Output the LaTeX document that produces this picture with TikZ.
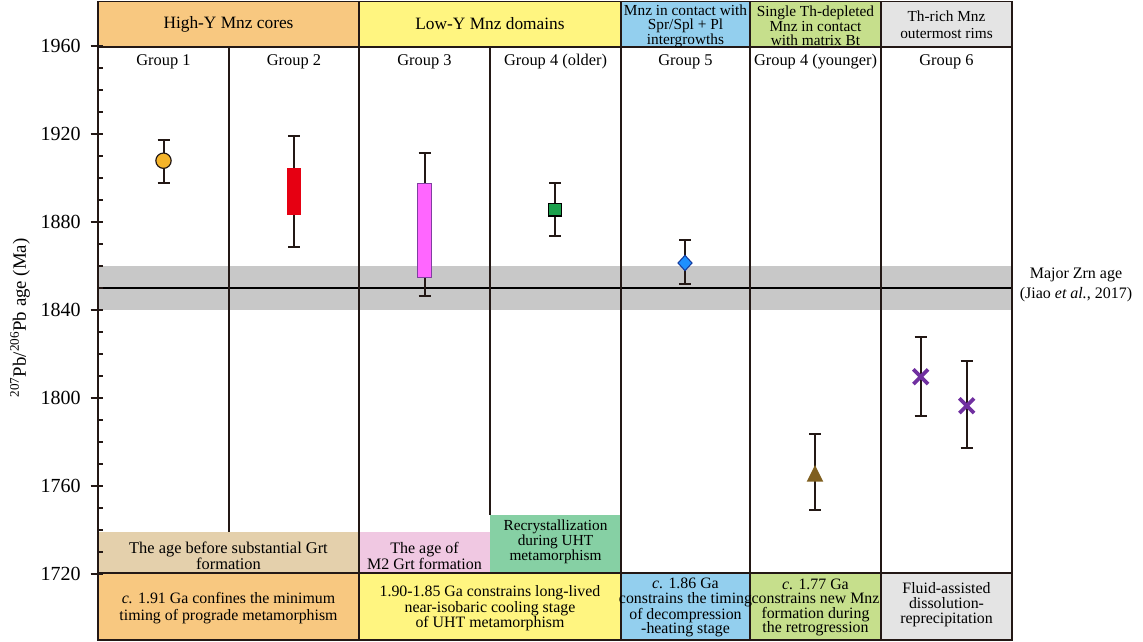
\documentclass[tikz,border=0pt]{standalone}
\usepackage{fontspec}
\setmainfont{Liberation Serif}
\usetikzlibrary{shapes.geometric,shapes.misc}
\definecolor{hdorange}{RGB}{248,200,128}
\definecolor{hdyellow}{RGB}{255,245,128}
\definecolor{hdblue}{RGB}{147,207,238}
\definecolor{hdgreen}{RGB}{198,223,140}
\definecolor{hdgrey}{RGB}{228,228,228}
\definecolor{bxbeige}{RGB}{228,208,172}
\definecolor{bxpink}{RGB}{240,200,226}
\definecolor{bxmint}{RGB}{134,208,164}
\definecolor{band}{RGB}{200,200,200}
\definecolor{lineclr}{RGB}{35,24,21}
\definecolor{mkorange}{RGB}{245,180,42}
\definecolor{mkred}{RGB}{230,0,18}
\definecolor{mkmag}{RGB}{255,102,255}
\definecolor{mkmagline}{RGB}{128,64,160}
\definecolor{mkgreen}{RGB}{27,160,75}
\definecolor{mkblue}{RGB}{30,144,255}
\definecolor{mkblueline}{RGB}{20,60,160}
\definecolor{mkbrown}{RGB}{127,95,31}
\definecolor{mkpurple}{RGB}{112,48,160}
\begin{document}
\begin{tikzpicture}[x=0.75pt,y=-0.75pt,
  frame/.style={draw=lineclr,line width=1.3pt},
  whisk/.style={draw=lineclr,line width=1.5pt},
  hdr/.style={font=\fontsize{13}{13}\selectfont,align=center,inner sep=0pt},
  hdrs/.style={font=\fontsize{11.5}{10.9}\selectfont,align=center,inner sep=0pt},
  grp/.style={font=\fontsize{12.3}{14}\selectfont,inner sep=0pt},
  btm/.style={font=\fontsize{11.9}{10.9}\selectfont,align=center,inner sep=0pt},
  boxtxt/.style={font=\fontsize{11.5}{10}\selectfont,align=center,inner sep=0pt},
  ticklab/.style={font=\fontsize{15}{15}\selectfont,anchor=east,inner sep=0pt},
  mk/.style={inner sep=0pt,outer sep=0pt}]
\useasboundingbox (0,0) rectangle (1143,642);

% header fills
\fill[hdorange] (98,1.5) rectangle (359,47);
\fill[hdyellow] (359,1.5) rectangle (621,47);
\fill[hdblue] (621,1.5) rectangle (750,47);
\fill[hdgreen] (750,1.5) rectangle (881,47);
\fill[hdgrey] (881,1.5) rectangle (1012,47);
% bottom fills
\fill[hdorange] (98,573) rectangle (359,640);
\fill[hdyellow] (359,573) rectangle (621,640);
\fill[hdblue] (621,573) rectangle (750,640);
\fill[hdgreen] (750,573) rectangle (881,640);
\fill[hdgrey] (881,573) rectangle (1012,640);
% interpretation boxes
\fill[bxbeige] (98,532) rectangle (359,573);
\fill[bxpink] (359,532) rectangle (490,573);
\fill[bxmint] (490,515) rectangle (621,573);
% Zrn age band
\fill[band] (98,266) rectangle (1012,310);
\draw[draw=black,line width=2.2pt] (98,288) -- (1012,288);

% frame and dividers
\draw[frame] (98,1.5) rectangle (1012,640);
\draw[frame] (98,47) -- (1012,47);
\draw[frame] (98,573) -- (1012,573);
\draw[frame] (229,47) -- (229,532);
\draw[frame] (359,1.5) -- (359,640);
\draw[frame] (490,47) -- (490,515);
\draw[frame] (621,1.5) -- (621,640);
\draw[frame] (750,1.5) -- (750,640);
\draw[frame] (881,1.5) -- (881,640);

% axis ticks
\foreach \v in {1720,1730,...,1960}{
  \pgfmathsetmacro\yy{46+(1960-\v)*2.2}
  \draw[draw=lineclr,line width=1.3pt] (98,\yy) -- (103,\yy);
}
\foreach \v in {1720,1760,...,1960}{
  \pgfmathsetmacro\yy{46+(1960-\v)*2.2}
  \draw[draw=lineclr,line width=1.3pt] (90.5,\yy) -- (98,\yy);
  \node[ticklab] (t\v) at (81,\yy) {\v};
}
\node[rotate=90,font=\fontsize{14.1}{15}\selectfont,inner sep=0pt] (ylab) at (20,318)
  {\textsuperscript{207}Pb/\textsuperscript{206}Pb age (Ma)};

% header text
\node[hdr] (h12) at (228.5,24) {High-Y Mnz cores};
\node[hdr] (h34) at (490,24) {Low-Y Mnz domains};
\node[hdrs] (h5) at (685.5,26) {Mnz in contact with\\Spr/Spl + Pl\\intergrowths};
\node[hdrs] (h6) at (815.5,26) {Single Th-depleted\\Mnz in contact\\with matrix Bt};
\node[hdrs,font=\fontsize{11.5}{12.5}\selectfont] (h7) at (946.5,25) {Th-rich Mnz\\outermost rims};

% group labels
\node[grp] (g1) at (163.5,62) {Group 1};
\node[grp] (g2) at (294,62) {Group 2};
\node[grp] (g3) at (424.5,62) {Group 3};
\node[grp] (g4o) at (555.5,62) {Group 4 (older)};
\node[grp] (g5) at (685.5,62) {Group 5};
\node[grp] (g4y) at (815.5,62) {Group 4 (younger)};
\node[grp] (g6) at (946.5,62) {Group 6};

% interpretation box texts
\node[boxtxt,font=\fontsize{12.3}{10}\selectfont] (b12) at (228.5,556) {The age before substantial Grt\\formation};
\node[boxtxt,font=\fontsize{12}{10}\selectfont] (b3) at (424.5,556) {The age of\\M2 Grt formation};
\node[boxtxt] (b4) at (555.5,542) {Recrystallization\\during UHT\\metamorphism};

% bottom band texts
\node[btm,font=\fontsize{11.9}{13.3}\selectfont] (c12) at (228.5,608) {\textit{c.} 1.91 Ga confines the minimum\\timing of prograde metamorphism};
\node[btm,font=\fontsize{11.9}{11.6}\selectfont] (c34) at (490,608.5) {1.90-1.85 Ga constrains long-lived\\near-isobaric cooling stage\\of UHT metamorphism};
\node[btm] (c5) at (685.5,607.5) {\textit{c.} 1.86 Ga\\constrains the timing\\of decompression\\-heating stage};
\node[btm] (c6) at (815.5,607.5) {\textit{c.} 1.77 Ga\\constrains new Mnz\\formation during\\the retrogression};
\node[btm,font=\fontsize{11.9}{11.3}\selectfont] (c7) at (946.5,605) {Fluid-assisted\\dissolution-\\reprecipitation};

% right label
\node[font=\fontsize{12}{15}\selectfont,align=center,inner sep=0pt] (zrn) at (1076,285) {Major Zrn age\\(Jiao \textit{et al.}, 2017)};

% error bars
\newcommand\errbar[3]{%
  \coordinate (#1t) at (#2);
  \coordinate (#1b) at (#3);
  \draw[whisk] (#1t) -- (#1b);
  \draw[whisk] ([xshift=-4.5pt]#1t) -- ([xshift=4.5pt]#1t);
  \draw[whisk] ([xshift=-4.5pt]#1b) -- ([xshift=4.5pt]#1b);
}
\errbar{e1}{163.5,139.5}{163.5,183.3}
\errbar{e2}{294,135.7}{294,247.3}
\errbar{e3}{424.5,153.3}{424.5,295.7}
\errbar{e4}{555,183.3}{555,235.7}
\errbar{e5}{685,240.3}{685,284.3}
\errbar{e6}{815,434}{815,510}
\errbar{e7}{920.7,337.3}{920.7,415.7}
\errbar{e8}{966.7,361.3}{966.7,448.3}

% markers
\node[mk,circle,draw=lineclr,line width=0.9pt,fill=mkorange,minimum size=11.5pt] (m1) at (163.5,160.7) {};
\node[mk,rectangle,fill=mkred,minimum width=11.2pt,minimum height=35pt] (m2) at (294,191.6) {};
\node[mk,rectangle,draw=mkmagline,line width=0.9pt,fill=mkmag,minimum width=11pt,minimum height=71pt] (m3) at (424.5,230.5) {};
\node[mk,rectangle,draw=black,line width=1pt,fill=mkgreen,minimum size=9.6pt] (m4) at (555,209.7) {};
\node[mk,diamond,draw=mkblueline,line width=0.8pt,fill=mkblue,minimum width=10.5pt,minimum height=11.5pt] (m5) at (685,263) {};
\coordinate (m6) at (815,475);
\fill[mkbrown] ([shift={(-8.3,6.7)}]m6) -- ([shift={(0,-10)}]m6) -- ([shift={(8.3,6.7)}]m6) -- cycle;
\node[mk,cross out,draw=mkpurple,line width=2.8pt,minimum size=11pt] (m7) at (920.7,376.7) {};
\node[mk,cross out,draw=mkpurple,line width=2.8pt,minimum size=11pt] (m8) at (966.7,405.7) {};
\end{tikzpicture}
\end{document}
